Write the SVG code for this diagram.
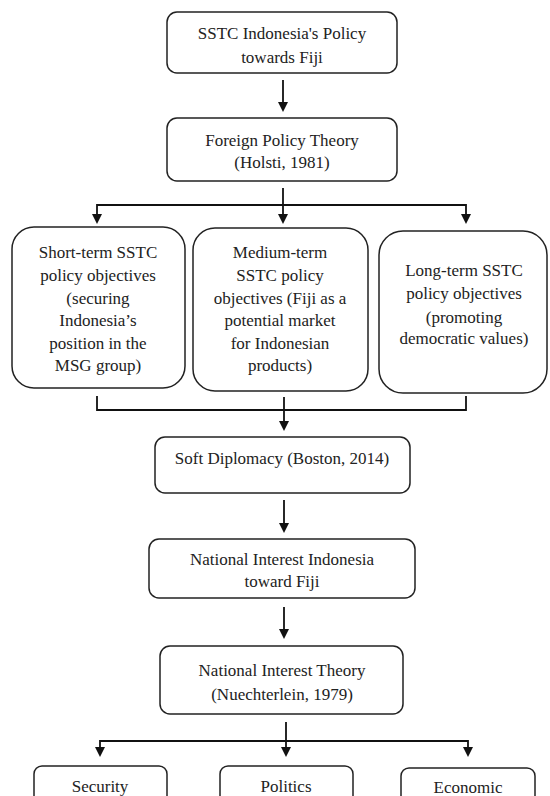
<svg xmlns="http://www.w3.org/2000/svg" width="550" height="796" viewBox="0 0 550 796">
<style>
.box{fill:#fff;stroke:#222;stroke-width:1.5}
.t{font-family:"Liberation Serif","Times New Roman",serif;font-size:17px;fill:#222;text-anchor:middle}
.c{fill:none;stroke:#111;stroke-width:1.8}
.ah{fill:#111}
</style>
<rect width="550" height="796" fill="#fff"/>
<g id="connectors">
<line class="c" x1="283" y1="80" x2="283" y2="103"/><path class="ah" d="M278,102 L288,102 L283,112 Z"/>
<line class="c" x1="283" y1="188" x2="283" y2="215"/>
<polyline class="c" points="97,215 97,205 466,205 466,215"/>
<path class="ah" d="M92,214 L102,214 L97,224 Z"/>
<path class="ah" d="M278,214 L288,214 L283,224 Z"/>
<path class="ah" d="M461,214 L471,214 L466,224 Z"/>
<polyline class="c" points="97,396 97,410 466,410 466,396"/>
<line class="c" x1="284" y1="397" x2="284" y2="422"/>
<path class="ah" d="M279,421 L289,421 L284,431 Z"/>
<line class="c" x1="284" y1="500" x2="284" y2="524"/>
<path class="ah" d="M279,523 L289,523 L284,533 Z"/>
<line class="c" x1="284" y1="607" x2="284" y2="630"/>
<path class="ah" d="M279,629 L289,629 L284,639 Z"/>
<line class="c" x1="286" y1="722" x2="286" y2="748"/>
<polyline class="c" points="100,748 100,741 468,741 468,748"/>
<path class="ah" d="M95,747 L105,747 L100,757 Z"/>
<path class="ah" d="M281,747 L291,747 L286,757 Z"/>
<path class="ah" d="M463,747 L473,747 L468,757 Z"/>
</g>
<g id="n1">
<rect class="box" x="167" y="12" width="230" height="61" rx="10"/>
<text class="t" x="282" y="39">SSTC Indonesia's Policy</text>
<text class="t" x="282" y="63">towards Fiji</text>
</g>
<g id="n2">
<rect class="box" x="167" y="118" width="230" height="63" rx="10"/>
<text class="t" x="282" y="146">Foreign Policy Theory</text>
<text class="t" x="282" y="168">(Holsti, 1981)</text>
</g>
<g id="n3">
<rect class="box" x="12" y="227" width="173" height="161" rx="22"/>
<text class="t" x="98" y="258">Short-term SSTC</text>
<text class="t" x="98" y="281">policy objectives</text>
<text class="t" x="98" y="304">(securing</text>
<text class="t" x="98" y="326">Indonesia’s</text>
<text class="t" x="98" y="349">position in the</text>
<text class="t" x="98" y="371">MSG group)</text>
</g>
<g id="n4">
<rect class="box" x="193" y="228" width="175" height="163" rx="22"/>
<text class="t" x="280" y="258">Medium-term</text>
<text class="t" x="280" y="281">SSTC policy</text>
<text class="t" x="280" y="304">objectives (Fiji as a</text>
<text class="t" x="280" y="326">potential market</text>
<text class="t" x="280" y="349">for Indonesian</text>
<text class="t" x="280" y="371">products)</text>
</g>
<g id="n5">
<rect class="box" x="379" y="231" width="168" height="162" rx="24"/>
<text class="t" x="464" y="276">Long-term SSTC</text>
<text class="t" x="464" y="299">policy objectives</text>
<text class="t" x="464" y="323">(promoting</text>
<text class="t" x="464" y="344">democratic values)</text>
</g>
<g id="n6">
<rect class="box" x="155" y="437" width="255" height="56" rx="10"/>
<text class="t" x="282" y="464">Soft Diplomacy (Boston, 2014)</text>
</g>
<g id="n7">
<rect class="box" x="149" y="539" width="266" height="59" rx="10"/>
<text class="t" x="282" y="565">National Interest Indonesia</text>
<text class="t" x="282" y="587">toward Fiji</text>
</g>
<g id="n8">
<rect class="box" x="160" y="646" width="243" height="68" rx="10"/>
<text class="t" x="282" y="676">National Interest Theory</text>
<text class="t" x="282" y="700">(Nuechterlein, 1979)</text>
</g>
<g id="n9">
<rect class="box" x="34" y="766" width="133" height="60" rx="8"/>
<text class="t" x="100" y="792">Security</text>
</g>
<g id="n10">
<rect class="box" x="220" y="766" width="133" height="60" rx="8"/>
<text class="t" x="286" y="792">Politics</text>
</g>
<g id="n11">
<rect class="box" x="401" y="768" width="134" height="60" rx="8"/>
<text class="t" x="468" y="793">Economic</text>
</g>
</svg>
